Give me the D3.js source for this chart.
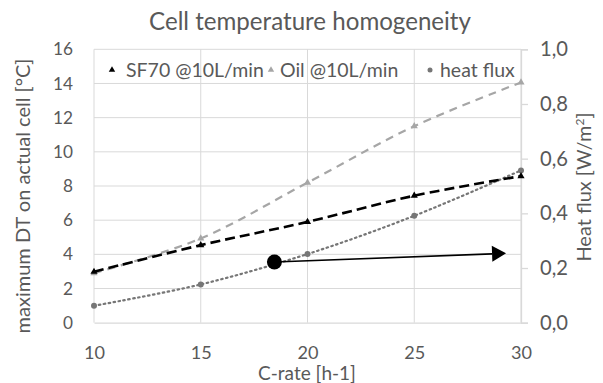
<!DOCTYPE html>
<html><head><meta charset="utf-8">
<script src="https://cdn.jsdelivr.net/npm/d3@7"></script>
<style>
html,body{margin:0;padding:0;background:#fff;}
text{font-family:Lato,"Open Sans",sans-serif;fill:#595959;}
</style></head>
<body><svg id="chart" width="603" height="383"></svg>
<script>
const cRate = [10, 15, 20, 25, 30];
const sf70 = [2.98, 4.54, 5.9, 7.43, 8.58];
const oil = [2.9, 4.93, 8.2, 11.5, 14.06];
const heatFlux = [0.062, 0.140, 0.251, 0.391, 0.557];
const leftTicks = [0, 2, 4, 6, 8, 10, 12, 14, 16];
const rightTicks = [0, 0.2, 0.4, 0.6, 0.8, 1.0];
const xTicks = [10, 15, 20, 25, 30];
const arrowStart = [18.45, 3.55];
const arrowEnd = [29.3, 4.06];
const legendLabels = ["SF70 @10L/min", "Oil @10L/min", "heat flux"];

const svg = d3.select("#chart");
const L = 94, R = 521, T = 49.3, B = 322.7;
const x = d3.scaleLinear().domain([10, 30]).range([L, R]);
const y = d3.scaleLinear().domain([0, 16]).range([B, T]);
const y2 = d3.scaleLinear().domain([0, 1]).range([B, T]);

function fitSize(sel, target) {
  const w = sel.node().getComputedTextLength();
  const fs = parseFloat(sel.style("font-size"));
  return fs * target / w;
}

// gridlines
svg.append("g").selectAll("line").data(leftTicks.filter(d => d > 0)).join("line")
  .attr("x1", L).attr("x2", R).attr("y1", d => y(d)).attr("y2", d => y(d))
  .attr("stroke", "#d9d9d9").attr("stroke-width", 1);
svg.append("g").selectAll("line").data(xTicks).join("line")
  .attr("x1", d => x(d)).attr("x2", d => x(d)).attr("y1", T).attr("y2", B)
  .attr("stroke", "#d9d9d9").attr("stroke-width", 1);

// bottom axis
const xAxis = d3.axisBottom(x).tickValues(xTicks).tickSize(0).tickPadding(0).tickFormat(d3.format("d"));
const gx = svg.append("g").attr("transform", `translate(0,${B})`).call(xAxis);
gx.select(".domain").attr("stroke", "#d9d9d9").attr("stroke-width", 1.3);
gx.selectAll("text").style("font-size", "20px").attr("fill", "#595959").attr("dy", null).attr("y", 36);
{ const t = gx.selectAll("text").filter(d => d === 30); const fs = fitSize(t, 21); gx.selectAll("text").style("font-size", fs + "px"); }

// left axis
const yAxis = d3.axisLeft(y).tickValues(leftTicks).tickSize(0).tickPadding(21);
const gy = svg.append("g").attr("transform", `translate(${L},0)`).call(yAxis);
gy.select(".domain").remove();
gy.selectAll("text").style("font-size", "20px").attr("fill", "#595959");
{ const t = gy.selectAll("text").filter(d => d === 16); const fs = fitSize(t, 20); gy.selectAll("text").style("font-size", fs + "px"); }

// right axis
const y2Axis = d3.axisRight(y2).tickValues(rightTicks).tickSize(7).tickPadding(12)
  .tickFormat(d => d3.format(".1f")(d).replace(".", ","));
const gy2 = svg.append("g").attr("transform", `translate(${R},0)`).call(y2Axis);
gy2.select(".domain").attr("stroke", "#d9d9d9").attr("stroke-width", 1.3);
gy2.selectAll(".tick line").attr("stroke", "#d9d9d9").attr("stroke-width", 1.3);
gy2.selectAll("text").style("font-size", "20px").attr("fill", "#595959");
{ const t = gy2.selectAll("text").filter(d => d === 1); const fs = fitSize(t, 28); gy2.selectAll("text").style("font-size", fs + "px"); }

// titles
const title = svg.append("text").attr("x", 310).attr("y", 30).attr("text-anchor", "middle")
  .style("font-size", "22px").text("Cell temperature homogeneity");
title.style("font-size", fitSize(title, 322) + "px");
const xt = svg.append("text").attr("x", 307).attr("y", 380).attr("text-anchor", "middle")
  .style("font-size", "18px").text("C-rate [h-1]");
xt.style("font-size", fitSize(xt, 98) + "px");
const lt = svg.append("text").attr("transform", "translate(30,196) rotate(-90)").attr("text-anchor", "middle")
  .style("font-size", "18px").text("maximum DT on actual cell [°C]");
lt.style("font-size", fitSize(lt, 275) + "px");
const rt = svg.append("text").attr("transform", "translate(591,187) rotate(-90)").attr("text-anchor", "middle")
  .style("font-size", "18px").html("Heat flux [W/m<tspan dy='-7' style='font-size:12px'>2</tspan><tspan dy='7'>]</tspan>");
rt.style("font-size", fitSize(rt, 150) + "px");

const pts = (ys, sc) => cRate.map((c, i) => [x(c), sc(ys[i])]);
const line = d3.line().curve(d3.curveCatmullRom.alpha(0.5));

// heat flux dotted
svg.append("path").attr("d", line(pts(heatFlux, y2))).attr("fill", "none")
  .attr("stroke", "#767676").attr("stroke-width", 2.2).attr("stroke-dasharray", "1.5,3.5").attr("stroke-linecap", "round");
svg.append("g").selectAll("circle").data(pts(heatFlux, y2)).join("circle")
  .attr("cx", d => d[0]).attr("cy", d => d[1]).attr("r", 3).attr("fill", "#767676");

// oil gray dashed
svg.append("path").attr("d", line(pts(oil, y))).attr("fill", "none")
  .attr("stroke", "#a6a6a6").attr("stroke-width", 2.2).attr("stroke-dasharray", "8,6");
const tri = d3.symbol().type(d3.symbolTriangle).size(22);
svg.append("g").selectAll("path").data(pts(oil, y)).join("path")
  .attr("transform", d => `translate(${d[0]},${d[1]})`).attr("d", tri).attr("fill", "#a6a6a6");

// SF70 black dashed
svg.append("path").attr("d", line(pts(sf70, y))).attr("fill", "none")
  .attr("stroke", "#000").attr("stroke-width", 2.6).attr("stroke-dasharray", "10,5");
svg.append("g").selectAll("path").data(pts(sf70, y)).join("path")
  .attr("transform", d => `translate(${d[0]},${d[1]})`).attr("d", tri).attr("fill", "#000");

// annotation arrow
const ax1 = x(arrowStart[0]), ay1 = y(arrowStart[1]), ax2 = x(arrowEnd[0]), ay2 = y(arrowEnd[1]);
const ang = Math.atan2(ay2 - ay1, ax2 - ax1);
const hl = 14, hw = 8;
const bx = ax2 - hl * Math.cos(ang), by = ay2 - hl * Math.sin(ang);
svg.append("line").attr("x1", ax1).attr("y1", ay1).attr("x2", bx).attr("y2", by)
  .attr("stroke", "#000").attr("stroke-width", 1.6);
svg.append("path").attr("d", `M${ax2},${ay2}L${bx - hw * Math.sin(ang)},${by + hw * Math.cos(ang)}L${bx + hw * Math.sin(ang)},${by - hw * Math.cos(ang)}Z`).attr("fill", "#000");
svg.append("circle").attr("cx", ax1).attr("cy", ay1).attr("r", 7.5).attr("fill", "#000");

// legend
const lg = svg.append("g");
const legX = [112, 271, 430];
const legTextX = [126, 280, 440];
const legW = [138, 118, 80];
const legCol = ["#000", "#a6a6a6", "#767676"];
legendLabels.forEach((lab, i) => {
  if (i < 2) {
    lg.append("path").attr("transform", `translate(${legX[i]},70)`).attr("d", d3.symbol().type(d3.symbolTriangle).size(18)).attr("fill", legCol[i]);
  } else {
    lg.append("circle").attr("cx", legX[i]).attr("cy", 70).attr("r", 2.5).attr("fill", legCol[i]);
  }
  const t = lg.append("text").attr("x", legTextX[i]).attr("y", 77).style("font-size", "19px").text(lab);
  if (i === 0) legFs = fitSize(t, legW[0]);
});
lg.selectAll("text").style("font-size", legFs + "px");
var legFs;
</script></body></html>
